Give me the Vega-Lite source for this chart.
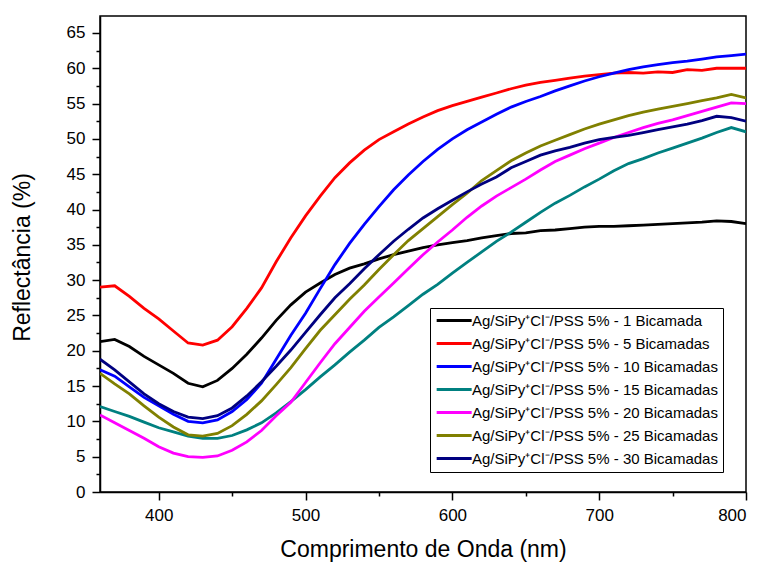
{
  "$schema": "https://vega.github.io/schema/vega-lite/v6.json",
  "width": 646,
  "height": 476,
  "autosize": {"type": "none"},
  "padding": {"left": 100, "top": 16, "right": 18, "bottom": 72},
  "background": "white",
  "config": {
    "view": {"stroke": "black", "strokeWidth": 1.5},
    "font": "Liberation Sans",
    "axis": {"grid": false, "domainColor": "black", "domainWidth": 1.5, "tickColor": "black", "tickWidth": 1.5, "labelColor": "black", "labelFontSize": 17, "labelPadding": 7, "titleColor": "black", "titleFontSize": 23, "titleFontWeight": "normal"}
  },
  "data": {"values": [
    {"wl":360,"a":21.3,"b":29.0,"c":17.3,"d":12.1,"e":10.9,"f":16.8,"g":18.8},
    {"wl":370,"a":21.6,"b":29.2,"c":16.4,"d":11.4,"e":9.8,"f":15.3,"g":17.3},
    {"wl":380,"a":20.6,"b":27.7,"c":14.9,"d":10.7,"e":8.7,"f":13.9,"g":15.6},
    {"wl":390,"a":19.2,"b":26.0,"c":13.4,"d":9.9,"e":7.6,"f":12.2,"g":13.9},
    {"wl":400,"a":18.0,"b":24.5,"c":12.2,"d":9.1,"e":6.4,"f":10.6,"g":12.5},
    {"wl":410,"a":16.8,"b":22.8,"c":11.0,"d":8.5,"e":5.5,"f":9.2,"g":11.4},
    {"wl":420,"a":15.4,"b":21.1,"c":10.0,"d":7.9,"e":5.0,"f":8.1,"g":10.6},
    {"wl":430,"a":14.9,"b":20.8,"c":9.8,"d":7.6,"e":4.9,"f":7.9,"g":10.4},
    {"wl":440,"a":15.8,"b":21.5,"c":10.2,"d":7.6,"e":5.1,"f":8.3,"g":10.8},
    {"wl":450,"a":17.5,"b":23.4,"c":11.4,"d":8.0,"e":5.9,"f":9.4,"g":11.9},
    {"wl":460,"a":19.5,"b":26.0,"c":13.1,"d":8.8,"e":7.1,"f":11.0,"g":13.6},
    {"wl":470,"a":21.8,"b":28.9,"c":15.4,"d":9.8,"e":8.7,"f":12.9,"g":15.6},
    {"wl":480,"a":24.3,"b":32.6,"c":18.8,"d":11.2,"e":10.8,"f":15.2,"g":17.8},
    {"wl":490,"a":26.5,"b":36.0,"c":22.2,"d":12.8,"e":12.7,"f":17.6,"g":20.1},
    {"wl":500,"a":28.3,"b":39.1,"c":25.3,"d":14.5,"e":15.5,"f":20.3,"g":22.6},
    {"wl":510,"a":29.6,"b":41.9,"c":28.8,"d":16.3,"e":18.3,"f":22.9,"g":25.1},
    {"wl":520,"a":30.8,"b":44.5,"c":32.2,"d":18.0,"e":21.0,"f":25.1,"g":27.5},
    {"wl":530,"a":31.7,"b":46.6,"c":35.2,"d":19.8,"e":23.3,"f":27.3,"g":29.5},
    {"wl":540,"a":32.3,"b":48.4,"c":37.9,"d":21.5,"e":25.6,"f":29.3,"g":31.6},
    {"wl":550,"a":33.0,"b":49.9,"c":40.4,"d":23.3,"e":27.6,"f":31.5,"g":33.6},
    {"wl":560,"a":33.6,"b":51.0,"c":42.8,"d":24.8,"e":29.6,"f":33.6,"g":35.5},
    {"wl":570,"a":34.1,"b":52.1,"c":44.9,"d":26.4,"e":31.6,"f":35.6,"g":37.2},
    {"wl":580,"a":34.6,"b":53.1,"c":46.8,"d":28.0,"e":33.6,"f":37.3,"g":38.8},
    {"wl":590,"a":35.0,"b":54.0,"c":48.5,"d":29.4,"e":35.4,"f":39.0,"g":40.1},
    {"wl":600,"a":35.3,"b":54.7,"c":50.0,"d":31.0,"e":37.1,"f":40.7,"g":41.3},
    {"wl":610,"a":35.6,"b":55.3,"c":51.3,"d":32.5,"e":38.9,"f":42.3,"g":42.5},
    {"wl":620,"a":36.0,"b":55.9,"c":52.4,"d":34.0,"e":40.5,"f":44.1,"g":43.6},
    {"wl":630,"a":36.3,"b":56.5,"c":53.5,"d":35.5,"e":41.9,"f":45.5,"g":44.6},
    {"wl":640,"a":36.6,"b":57.1,"c":54.5,"d":36.8,"e":43.1,"f":46.9,"g":45.9},
    {"wl":650,"a":36.7,"b":57.6,"c":55.3,"d":38.2,"e":44.3,"f":48.0,"g":46.8},
    {"wl":660,"a":37.0,"b":58.0,"c":56.0,"d":39.6,"e":45.6,"f":49.0,"g":47.7},
    {"wl":670,"a":37.1,"b":58.3,"c":56.8,"d":40.9,"e":46.8,"f":49.8,"g":48.3},
    {"wl":680,"a":37.3,"b":58.6,"c":57.5,"d":42.0,"e":47.7,"f":50.6,"g":48.8},
    {"wl":690,"a":37.5,"b":58.9,"c":58.2,"d":43.2,"e":48.6,"f":51.4,"g":49.4},
    {"wl":700,"a":37.6,"b":59.1,"c":58.8,"d":44.3,"e":49.4,"f":52.1,"g":49.9},
    {"wl":710,"a":37.6,"b":59.3,"c":59.3,"d":45.5,"e":50.2,"f":52.7,"g":50.2},
    {"wl":720,"a":37.7,"b":59.4,"c":59.8,"d":46.5,"e":50.9,"f":53.3,"g":50.5},
    {"wl":730,"a":37.8,"b":59.3,"c":60.2,"d":47.2,"e":51.6,"f":53.8,"g":50.9},
    {"wl":740,"a":37.9,"b":59.5,"c":60.5,"d":48.0,"e":52.2,"f":54.2,"g":51.3},
    {"wl":750,"a":38.0,"b":59.4,"c":60.8,"d":48.7,"e":52.7,"f":54.6,"g":51.7},
    {"wl":760,"a":38.1,"b":59.8,"c":61.0,"d":49.4,"e":53.3,"f":55.0,"g":52.1},
    {"wl":770,"a":38.2,"b":59.7,"c":61.3,"d":50.1,"e":53.9,"f":55.4,"g":52.6},
    {"wl":780,"a":38.4,"b":60.0,"c":61.6,"d":50.9,"e":54.5,"f":55.8,"g":53.2},
    {"wl":790,"a":38.3,"b":60.0,"c":61.8,"d":51.6,"e":55.1,"f":56.3,"g":53.0},
    {"wl":800,"a":38.0,"b":60.0,"c":62.0,"d":51.0,"e":55.0,"f":55.8,"g":52.5}
  ]},
  "transform": [{"fold": ["a","b","c","d","e","f","g"], "as": ["s","R"]}],
  "mark": {"type": "line", "strokeWidth": 2.8, "clip": true},
  "encoding": {
    "x": {
      "field": "wl", "type": "quantitative",
      "scale": {"domain": [360, 800], "nice": false, "zero": false},
      "axis": {
        "title": "Comprimento de Onda (nm)",
        "values": [400,450,500,550,600,650,700,750,800],
        "labelExpr": "datum.value % 100 === 0 ? datum.label : ''",
        "tickSize": {"condition": {"test": "datum.value % 100 === 0", "value": 8}, "value": 4},
        "titleY": 64, "titleBaseline": "alphabetic"
      }
    },
    "y": {
      "field": "R", "type": "quantitative",
      "scale": {"domain": [0, 67.4], "nice": false},
      "axis": {
        "title": "Reflectância (%)",
        "values": [0,2.5,5,7.5,10,12.5,15,17.5,20,22.5,25,27.5,30,32.5,35,37.5,40,42.5,45,47.5,50,52.5,55,57.5,60,62.5,65],
        "labelExpr": "datum.value % 5 === 0 ? datum.label : ''",
        "tickSize": {"condition": {"test": "datum.value % 5 === 0", "value": 8}, "value": 4},
        "titleX": -78, "titleY": 241, "titleAngle": -90, "titleBaseline": "middle", "titleAlign": "center"
      }
    },
    "color": {
      "field": "s", "type": "nominal",
      "scale": {"domain": ["a","b","c","d","e","f","g"], "range": ["#000000","#FF0000","#0000FF","#008080","#FF00FF","#808000","#000080"]},
      "legend": {
        "orient": "none", "legendX": 330, "legendY": 292, "title": null,
        "symbolType": "M-1,0H5", "symbolSize": 136, "symbolStrokeWidth": 3,
        "labelFontSize": 15, "labelOffset": 22, "labelLimit": 400, "labelColor": "black",
        "padding": 5, "rowPadding": 7, "strokeColor": "black", "fillColor": "white",
        "labelExpr": "'Ag/SiPy⁺Cl⁻/PSS 5% - ' + (datum.label=='a' ? '1 Bicamada' : datum.label=='b' ? '5 Bicamadas' : datum.label=='c' ? '10 Bicamadas' : datum.label=='d' ? '15 Bicamadas' : datum.label=='e' ? '20 Bicamadas' : datum.label=='f' ? '25 Bicamadas' : '30 Bicamadas')"
      }
    }
  }
}
